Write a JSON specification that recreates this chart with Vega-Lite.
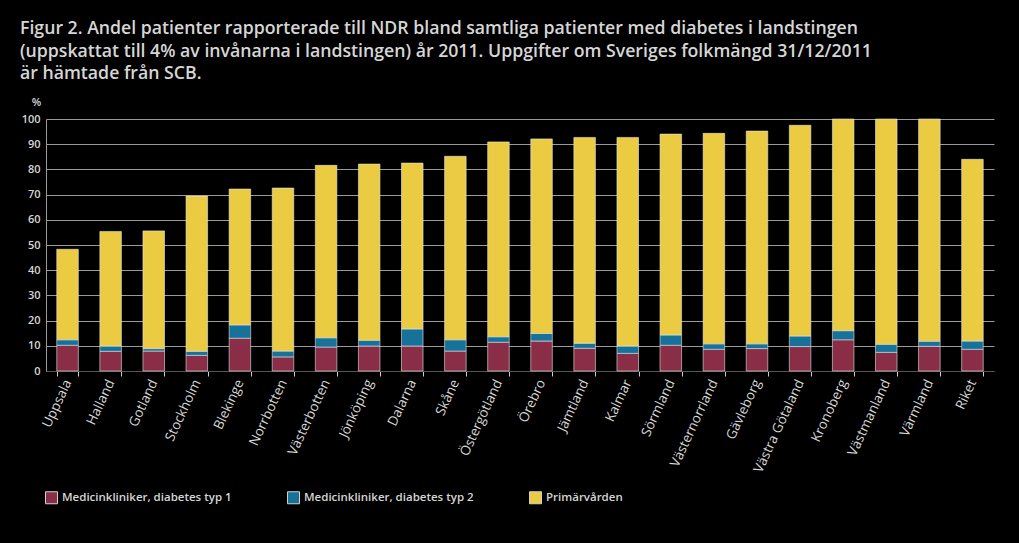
{
  "$schema": "https://vega.github.io/schema/vega-lite/v6.json",
  "autosize": "none",
  "width": 948,
  "height": 252,
  "padding": {"left": 46, "top": 119, "right": 25, "bottom": 172},
  "background": "#000000",
  "config": {
    "view": {"stroke": null},
    "font": "Open Sans",
    "axis": {"labelColor": "#d6d6d6", "titleColor": "#d6d6d6", "labelFont": "Open Sans", "labelFontSize": 11, "labelFontWeight": 600},
    "legend": {"labelColor": "#d6d6d6", "labelFont": "Open Sans"}
  },
  "title": {
    "text": [
      "Figur 2. Andel patienter rapporterade till NDR bland samtliga patienter med diabetes i landstingen",
      "(uppskattat till 4% av invånarna i landstingen) år 2011. Uppgifter om Sveriges folkmängd 31/12/2011",
      "är hämtade från SCB."
    ],
    "anchor": "start",
    "frame": "group",
    "dx": -26,
    "offset": 13,
    "fontSize": 17.7,
    "fontWeight": 600,
    "lineHeight": 22.5,
    "color": "#d6d6d6",
    "font": "Open Sans"
  },
  "data": {
    "values": [
      {"region": "Uppsala", "a": 10.2, "b": 2.2, "c": 35.9},
      {"region": "Halland", "a": 7.8, "b": 2.1, "c": 45.5},
      {"region": "Gotland", "a": 7.9, "b": 1.0, "c": 46.7},
      {"region": "Stockholm", "a": 6.2, "b": 1.6, "c": 61.6},
      {"region": "Blekinge", "a": 13.0, "b": 5.3, "c": 53.9},
      {"region": "Norrbotten", "a": 5.6, "b": 2.3, "c": 64.7},
      {"region": "Västerbotten", "a": 9.5, "b": 3.7, "c": 68.4},
      {"region": "Jönköping", "a": 9.9, "b": 2.3, "c": 69.9},
      {"region": "Dalarna", "a": 9.9, "b": 6.8, "c": 65.8},
      {"region": "Skåne", "a": 7.9, "b": 4.5, "c": 72.8},
      {"region": "Östergötland", "a": 11.4, "b": 2.2, "c": 77.3},
      {"region": "Örebro", "a": 11.9, "b": 3.0, "c": 77.2},
      {"region": "Jämtland", "a": 9.0, "b": 2.0, "c": 81.7},
      {"region": "Kalmar", "a": 7.0, "b": 2.9, "c": 82.8},
      {"region": "Sörmland", "a": 10.2, "b": 4.1, "c": 79.7},
      {"region": "Västernorrland", "a": 8.6, "b": 2.2, "c": 83.5},
      {"region": "Gävleborg", "a": 8.9, "b": 1.9, "c": 84.4},
      {"region": "Västra Götaland", "a": 9.7, "b": 4.2, "c": 83.6},
      {"region": "Kronoberg", "a": 12.4, "b": 3.6, "c": 84.0},
      {"region": "Västmanland", "a": 7.4, "b": 3.2, "c": 89.4},
      {"region": "Värmland", "a": 9.8, "b": 2.0, "c": 88.2},
      {"region": "Riket", "a": 8.6, "b": 3.3, "c": 72.1}
    ]
  },
  "transform": [{"fold": ["a", "b", "c"], "as": ["serie", "value"]}],
  "mark": {"type": "bar", "stroke": "#e6e6e6", "strokeWidth": 0.6},
  "encoding": {
    "x": {
      "field": "region",
      "type": "nominal",
      "sort": null,
      "scale": {"paddingInner": 0.5, "paddingOuter": 0.25},
      "axis": {
        "title": null,
        "labelAngle": -65,
        "tickBand": "extent",
        "domainColor": "#555555",
        "tickColor": "#cccccc",
        "tickSize": 5,
        "labelPadding": 4,
        "labelFontSize": 13.5,
        "labelFontWeight": 400
      }
    },
    "y": {
      "field": "value",
      "type": "quantitative",
      "stack": "zero",
      "scale": {"domain": [0, 100], "nice": false},
      "axis": {
        "title": "%",
        "titleAngle": 0,
        "titleX": -10,
        "titleY": -12,
        "titleAlign": "center",
        "titleFontSize": 11,
        "titleFontWeight": 600,
        "values": [0, 10, 20, 30, 40, 50, 60, 70, 80, 90, 100],
        "grid": true,
        "gridColor": "#9a9a9a",
        "gridWidth": 1,
        "domainColor": "#9a9a9a",
        "ticks": false,
        "labelPadding": 6
      }
    },
    "color": {
      "field": "serie",
      "type": "nominal",
      "scale": {"domain": ["a", "b", "c"], "range": ["#8a2e47", "#17729a", "#eacb41"]},
      "legend": {
        "title": null,
        "orient": "none",
        "legendX": -1,
        "legendY": 372,
        "direction": "horizontal",
        "columns": 3,
        "gridAlign": "all",
        "columnPadding": 53,
        "symbolType": "square",
        "symbolSize": 144,
        "symbolStrokeColor": "#d0d0d0",
        "symbolStrokeWidth": 1,
        "labelFontSize": 11.5,
        "labelFontWeight": 600,
        "labelLimit": 300,
        "labelExpr": "datum.value == 'a' ? 'Medicinkliniker, diabetes typ 1' : datum.value == 'b' ? 'Medicinkliniker, diabetes typ 2' : 'Primärvården'"
      }
    },
    "order": {"field": "serie", "sort": "ascending"}
  }
}
